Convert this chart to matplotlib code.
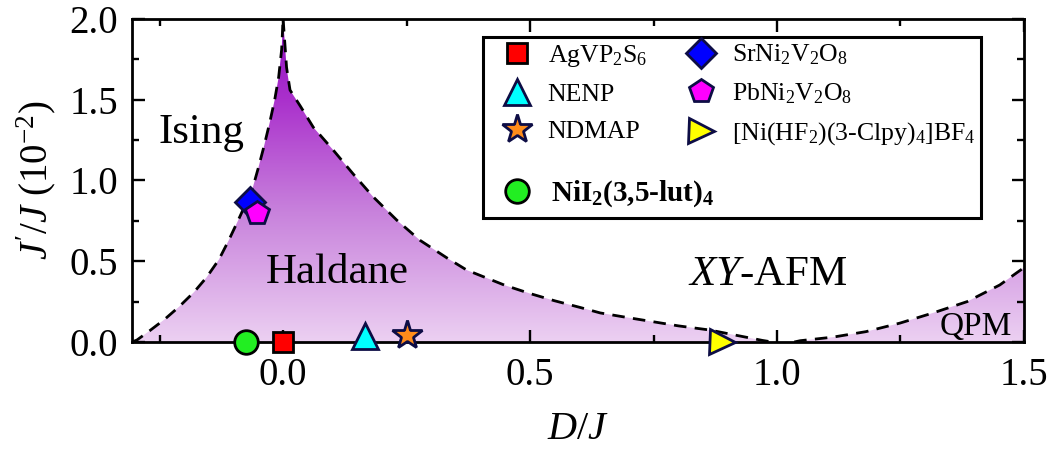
import numpy as np
import matplotlib
matplotlib.use("Agg")
import matplotlib.pyplot as plt
from matplotlib.colors import LinearSegmentedColormap
from matplotlib.patches import Polygon, Rectangle
from matplotlib.ticker import MultipleLocator

plt.rcParams["font.family"] = "Liberation Serif"
plt.rcParams["mathtext.fontset"] = "custom"
plt.rcParams["mathtext.rm"] = "Liberation Serif"
plt.rcParams["mathtext.it"] = "Liberation Serif:italic"
plt.rcParams["mathtext.bf"] = "Liberation Serif:bold"

# Phase boundaries, D/J vs J'/J (in units of 1e-2)
ising_D = [-0.306, -0.296, -0.27, -0.24, -0.21, -0.18, -0.155, -0.13,
           -0.11, -0.09, -0.075, -0.061, -0.05, -0.038, -0.027, -0.017,
           -0.009, -0.003, 0.0]
ising_J = [0.0, 0.012, 0.07, 0.14, 0.22, 0.31, 0.40, 0.51,
           0.63, 0.76, 0.86, 0.96, 1.08, 1.22, 1.36, 1.50,
           1.64, 1.81, 2.0]

xy_D = [0.0, 0.007, 0.014, 0.035, 0.061, 0.101, 0.142, 0.182, 0.23, 0.277,
        0.332, 0.372, 0.45, 0.50, 0.55, 0.60, 0.642, 0.70, 0.75, 0.80,
        0.864, 0.92, 0.97, 0.99]
xy_J = [2.0, 1.70, 1.56, 1.46, 1.33, 1.19, 1.04, 0.90, 0.755, 0.63,
        0.52, 0.445, 0.35, 0.30, 0.255, 0.215, 0.18, 0.15, 0.125, 0.10,
        0.074, 0.04, 0.01, 0.0]

qpm_D = [1.035, 1.047, 1.113, 1.18, 1.249, 1.316, 1.385, 1.451, 1.486, 1.5]
qpm_J = [0.0, 0.008, 0.03, 0.064, 0.117, 0.18, 0.25, 0.353, 0.43, 0.46]

# Materials placed on the diagram
materials = [r"AgVP$_2$S$_6$", "NENP", "NDMAP",
             r"SrNi$_2$V$_2$O$_8$", r"PbNi$_2$V$_2$O$_8$",
             r"[Ni(HF$_2$)(3-Clpy)$_4$]BF$_4$",
             r"NiI$_\mathbf{2}$(3,5-lut)$_\mathbf{4}$"]
mat_D = [0.0, 0.166, 0.25, -0.067, -0.053, 0.889, -0.075]
mat_J = [0.0, 0.04, 0.045, 0.867, 0.80, 0.0, 0.0]

mat_marker = ["s", "^", "*", "D", "p", ">", "o"]
mat_face = ["#ff0000", "#00ffff", "#ff8c1a", "#0000ff", "#ff00ff", "#ffff00", "#22ee22"]
mat_edge = ["#000000", "#0d0d45", "#0d0d45", "#0d0d45", "#0d0d45", "#0d0d45", "#000000"]
mat_size = [15, 19, 22, 15, 18, 18, 17]

xlim = (-0.306, 1.5)
ylim = (0.0, 2.0)

fig = plt.figure(figsize=(10.6, 4.51), dpi=100)
ax = fig.add_axes([0.1245, 0.2417, 0.8415, 0.7162])

# Gradient fill of the Haldane and QPM regions
cmap = LinearSegmentedColormap.from_list(
    "haldane", [(0.0, "#ecd0f2"), (0.4, "#c882dc"), (0.75, "#aa30cc"), (1.0, "#9010c0")])
grad = np.linspace(0, 1, 256).reshape(-1, 1)

haldane_poly = Polygon(list(zip(ising_D, ising_J)) + list(zip(xy_D, xy_J)),
                       closed=True, facecolor="none", edgecolor="none")
qpm_poly = Polygon(list(zip(qpm_D, qpm_J)) + [(xlim[1], 0.0)],
                   closed=True, facecolor="none", edgecolor="none")
for poly in (haldane_poly, qpm_poly):
    ax.add_patch(poly)
    im = ax.imshow(grad, extent=(xlim[0], xlim[1], ylim[0], ylim[1]),
                   origin="lower", aspect="auto", cmap=cmap, zorder=1,
                   interpolation="bilinear")
    im.set_clip_path(poly)

# Dashed phase boundaries
for bd, bj in ((ising_D, ising_J), (xy_D, xy_J), (qpm_D, qpm_J)):
    ax.plot(bd, bj, color="black", lw=2.0, ls=(0, (4.5, 3)), zorder=3)

# Material markers
handles = []
for name, d, j, m, fc, ec, ms in zip(materials, mat_D, mat_J, mat_marker,
                                       mat_face, mat_edge, mat_size):
    h, = ax.plot([d], [j], ls="none", marker=m, markersize=ms,
                 markerfacecolor=fc, markeredgecolor=ec, markeredgewidth=2.0,
                 clip_on=False, zorder=10, label=name)
    handles.append(h)

ax.set_xlim(*xlim)
ax.set_ylim(*ylim)

# Region labels
ax.text(-0.253, 1.232, "Ising", fontsize=31, ha="left", va="baseline", zorder=5)
ax.text(-0.036, 0.365, "Haldane", fontsize=31, ha="left", va="baseline", zorder=5)
ax.text(0.82, 0.353, r"$XY$-AFM", fontsize=31, ha="left", va="baseline", zorder=5)
ax.text(1.33, 0.043, "QPM", fontsize=24, ha="left", va="baseline", zorder=5)

# Axes styling
ax.xaxis.set_major_locator(MultipleLocator(0.5))
ax.xaxis.set_minor_locator(MultipleLocator(0.25))
ax.yaxis.set_major_locator(MultipleLocator(0.5))
ax.yaxis.set_minor_locator(MultipleLocator(0.25))
ax.tick_params(which="both", direction="in", top=True, right=True, width=1.7,
               labelsize=28)
ax.tick_params(which="major", length=9)
ax.tick_params(which="minor", length=5)
ax.tick_params(axis="x", pad=11)
ax.tick_params(axis="y", pad=10)
for s in ax.spines.values():
    s.set_linewidth(2.0)
    s.set_zorder(6)

ax.set_xlabel(r"$D/J$", fontsize=29, labelpad=12)
ax.set_ylabel(r"$J'/J$ (10$^{-2}$)", fontsize=28, labelpad=8)

# Legend frame and entries
frame = Rectangle((0.3935, 0.384), 0.5583, 0.560, transform=ax.transAxes,
                  facecolor="white", edgecolor="black", lw=2.2, zorder=7)
ax.add_patch(frame)

leg1 = ax.legend(handles=handles[:6], ncol=2, loc="center left",
                 bbox_to_anchor=(0.4025, 0.765), frameon=False, fontsize=18.5,
                 borderpad=0, borderaxespad=0, handlelength=2.0,
                 handletextpad=0.2, columnspacing=1.1, labelspacing=0.55)
leg1.set_zorder(8)
ax.add_artist(leg1)
leg2 = ax.legend(handles=handles[6:], loc="center left",
                 bbox_to_anchor=(0.4025, 0.458), frameon=False,
                 prop={"size": 21, "weight": "bold"},
                 borderpad=0, borderaxespad=0, handlelength=1.8,
                 handletextpad=0.25)
leg2.set_zorder(8)

fig.savefig("out.png", dpi=100)
